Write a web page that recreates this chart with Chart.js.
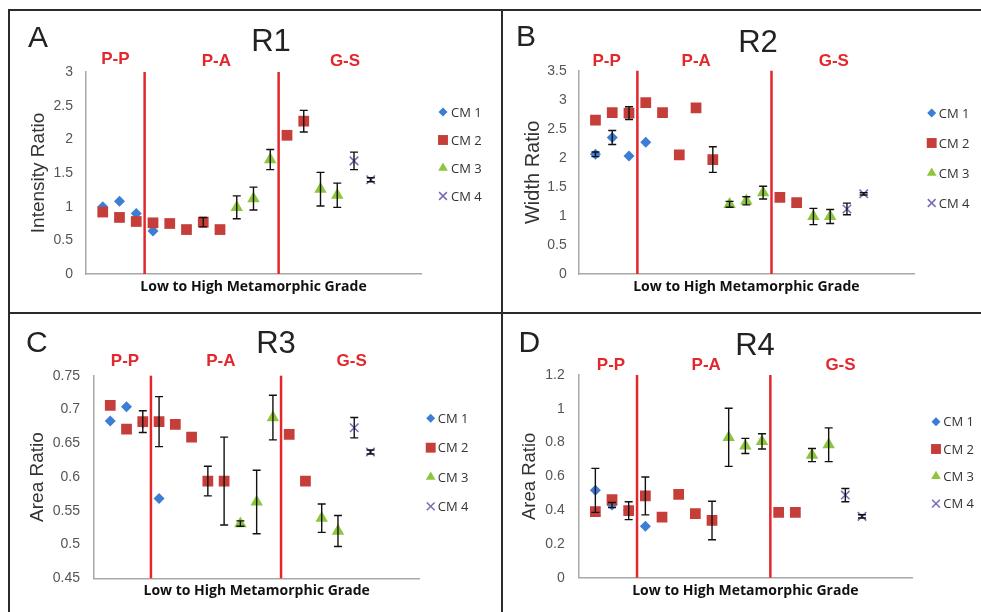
<!DOCTYPE html>
<html>
<head>
<meta charset="utf-8">
<script src="https://cdn.jsdelivr.net/npm/chart.js"></script>
<style>
  body { margin: 0; background: #fff; }
  #fig { position: relative; width: 981px; height: 612px; overflow: hidden; background: #fff; }
  #fig canvas { position: absolute; }
  .rule { position: absolute; background: #2b2b2b; }
</style>
</head>
<body>
<div id="fig">
  <canvas id="r1" width="501" height="313" style="left:0;top:0"></canvas>
  <canvas id="r2" width="480" height="313" style="left:501px;top:0"></canvas>
  <canvas id="r3" width="501" height="299" style="left:0;top:313px"></canvas>
  <canvas id="r4" width="480" height="299" style="left:501px;top:313px"></canvas>
  <div class="rule" style="left:8px;top:9px;width:973px;height:2px"></div>
  <div class="rule" style="left:8px;top:9px;width:2px;height:603px"></div>
  <div class="rule" style="left:501px;top:9px;width:2px;height:603px"></div>
  <div class="rule" style="left:8px;top:312px;width:973px;height:2px"></div>
</div>
<script>
// positions along the "low to high grade" axis
const xCm1 = [1, 2, 3, 4];
const xCm2 = [1, 2, 3, 4, 5, 6, 7, 8, 12, 13];
const xCm3 = [9, 10, 11, 14, 15];
const xCm4 = [16, 17];
const zoneNames = ['P-P', 'P-A', 'G-S'];
const zoneSplits = [3.5, 11.5];
const seriesNames = ['CM 1', 'CM 2', 'CM 3', 'CM 4'];

// R1 - intensity ratio
const r1Cm1 = [1.00, 1.08, 0.90, 0.64];
const r1Cm1Err = [0, 0, 0, 0];
const r1Cm2 = [0.92, 0.84, 0.78, 0.76, 0.75, 0.66, 0.77, 0.66, 2.06, 2.27];
const r1Cm2Err = [0, 0, 0, 0, 0, 0, 0.07, 0, 0, 0.16];
const r1Cm3 = [0.99, 1.12, 1.70, 1.26, 1.17];
const r1Cm3Err = [0.17, 0.17, 0.15, 0.25, 0.18];
const r1Cm4 = [1.68, 1.40];
const r1Cm4Err = [0.13, 0.03];

// R2 - width ratio
const r2Cm1 = [2.06, 2.35, 2.03, 2.27];
const r2Cm1Err = [0.04, 0.12, 0, 0];
const r2Cm2 = [2.65, 2.78, 2.77, 2.95, 2.78, 2.05, 2.86, 1.97, 1.32, 1.23];
const r2Cm2Err = [0, 0, 0.11, 0, 0, 0, 0, 0.22, 0, 0];
const r2Cm3 = [1.20, 1.26, 1.40, 0.99, 0.99];
const r2Cm3Err = [0.05, 0.07, 0.11, 0.14, 0.12];
const r2Cm4 = [1.12, 1.38];
const r2Cm4Err = [0.10, 0.02];

// R3 - area ratio
const r3Cm1 = [0.683, 0.704, 0.680, 0.568];
const r3Cm1Err = [0, 0, 0, 0];
const r3Cm2 = [0.706, 0.671, 0.682, 0.682, 0.678, 0.659, 0.594, 0.594, 0.663, 0.594];
const r3Cm2Err = [0, 0, 0.016, 0.037, 0, 0, 0.022, 0.065, 0, 0];
const r3Cm3 = [0.531, 0.563, 0.688, 0.539, 0.520];
const r3Cm3Err = [0.004, 0.047, 0.033, 0.021, 0.023];
const r3Cm4 = [0.673, 0.637];
const r3Cm4Err = [0.015, 0.003];

// R4 - area ratio
const r4Cm1 = [0.517, 0.43, 0.40, 0.304];
const r4Cm1Err = [0.13, 0.015, 0, 0];
const r4Cm2 = [0.391, 0.462, 0.397, 0.484, 0.359, 0.493, 0.379, 0.339, 0.387, 0.387];
const r4Cm2Err = [0, 0, 0.053, 0.112, 0, 0, 0, 0.114, 0, 0];
const r4Cm3 = [0.831, 0.78, 0.807, 0.726, 0.787];
const r4Cm3Err = [0.172, 0.045, 0.045, 0.039, 0.10];
const r4Cm4 = [0.489, 0.363];
const r4Cm4Err = [0.039, 0.01];

const styles = [
  { color: '#3c7ed3', pointStyle: 'rectRot', radius: 5.5, border: 0, legendRadius: 4.5 },
  { color: '#c63e3a', pointStyle: 'rect', radius: 7.6, border: 0, legendRadius: 7 },
  { color: '#8ec53e', pointStyle: 'triangle', radius: 7.2, border: 0, legendRadius: 5.6 },
  { color: '#7c69b6', pointStyle: 'crossRot', radius: 6, border: 1.5, legendRadius: 5.5 }
];

function pts(xs, ys) {
  return xs.map((x, i) => ({ x: x, y: ys[i] }));
}

function drawMarker(ctx, st, r, x, y) {
  ctx.fillStyle = st.color;
  ctx.strokeStyle = st.color;
  ctx.lineWidth = st.border || 1;
  Chart.helpers.drawPoint(ctx, { pointStyle: st.pointStyle, radius: r, rotation: 0, borderWidth: st.border }, x, y);
}

const decor = {
  id: 'decor',
  beforeDatasetsDraw(chart, args, o) {
    const { ctx, chartArea, scales: { x } } = chart;
    ctx.save();
    ctx.strokeStyle = '#e3282c';
    ctx.lineWidth = 2.5;
    zoneSplits.forEach(v => {
      const px = x.getPixelForValue(v);
      ctx.beginPath();
      ctx.moveTo(px, chartArea.top);
      ctx.lineTo(px, chartArea.bottom);
      ctx.stroke();
    });
    ctx.restore();
  },
  afterDatasetsDraw(chart) {
    const { ctx, scales: { x, y } } = chart;
    ctx.save();
    ctx.strokeStyle = '#111';
    ctx.lineWidth = 1.4;
    chart.data.datasets.forEach(ds => {
      ds.err.forEach((e, j) => {
        if (!e) return;
        const p = ds.data[j];
        const px = x.getPixelForValue(p.x);
        const hi = y.getPixelForValue(p.y + e);
        const lo = y.getPixelForValue(p.y - e);
        ctx.beginPath();
        ctx.moveTo(px, hi); ctx.lineTo(px, lo);
        ctx.moveTo(px - 4, hi); ctx.lineTo(px + 4, hi);
        ctx.moveTo(px - 4, lo); ctx.lineTo(px + 4, lo);
        ctx.stroke();
      });
    });
    ctx.restore();
  },
  afterDraw(chart, args, o) {
    const ctx = chart.ctx;
    ctx.save();
    ctx.fillStyle = '#222';
    ctx.textBaseline = 'alphabetic';
    ctx.textAlign = 'left';
    ctx.font = '30px "Liberation Sans", Arial, sans-serif';
    ctx.fillText(o.letter[0], o.letter[1], o.letter[2]);
    ctx.textAlign = 'center';
    ctx.font = '31px "Liberation Sans", Arial, sans-serif';
    ctx.fillText(o.title[0], o.title[1], o.title[2]);

    ctx.fillStyle = '#e3282c';
    ctx.font = 'bold 17px "Liberation Sans", Arial, sans-serif';
    ctx.textBaseline = 'middle';
    zoneNames.forEach((t, i) => ctx.fillText(t, o.zoneX[i], o.zoneY[i]));

    ctx.textAlign = 'left';
    ctx.font = '13px "Open Sans", sans-serif';
    seriesNames.forEach((t, i) => {
      drawMarker(ctx, styles[i], styles[i].legendRadius, o.legend.mx, o.legend.ys[i]);
      ctx.fillStyle = '#333';
      ctx.fillText(t, o.legend.tx, o.legend.ys[i] + 1);
    });
    ctx.restore();
  }
};

function makePanel(id, series, errs, yAxis, lay, text) {
  const canvas = document.getElementById(id);
  const W = canvas.width, H = canvas.height;
  const xs = [xCm1, xCm2, xCm3, xCm4];
  const datasets = series.map((ys, i) => ({
    label: seriesNames[i],
    data: pts(xs[i], ys),
    err: errs[i],
    order: i === 0 ? 1 : 0,
    pointStyle: styles[i].pointStyle,
    pointRadius: styles[i].radius,
    pointHoverRadius: styles[i].radius,
    backgroundColor: styles[i].color,
    borderColor: styles[i].color,
    pointBorderWidth: styles[i].border,
    showLine: false
  }));
  const yLh = yAxis.titleSize * 1.2;
  const padLeft = lay.yTitleX - yLh / 2;
  const xH = lay.xTitleY + 8.4 - lay.bottom;
  new Chart(canvas, {
    type: 'scatter',
    data: { datasets: datasets },
    plugins: [decor],
    options: {
      responsive: false,
      animation: false,
      events: [],
      layout: {
        padding: {
          left: padLeft,
          right: W - lay.right,
          top: lay.top,
          bottom: H - lay.bottom - xH
        }
      },
      plugins: {
        legend: { display: false },
        tooltip: { enabled: false },
        decor: text
      },
      scales: {
        x: {
          type: 'linear',
          min: 0,
          max: 20,
          grid: { display: false, drawTicks: false, tickLength: 0 },
          border: { display: true, color: '#a8a8a8', width: 1.5 },
          ticks: { display: false },
          title: {
            display: true,
            text: 'Low to High Metamorphic Grade',
            color: '#111',
            font: { family: '"Open Sans", sans-serif', size: 14, weight: 'bold' },
            padding: 0
          },
          afterFit: s => { s.height = xH; }
        },
        y: {
          min: yAxis.min,
          max: yAxis.max,
          grid: { display: false, drawTicks: false, tickLength: 0 },
          border: { display: true, color: '#a8a8a8', width: 1.5 },
          ticks: {
            stepSize: yAxis.step,
            padding: lay.tickPad,
            color: '#555',
            font: { family: '"Liberation Sans", Arial, sans-serif', size: 14 },
            callback: v => String(Math.round(v * 1000) / 1000)
          },
          title: {
            display: true,
            text: yAxis.title,
            color: '#333',
            font: { family: '"Liberation Sans", Arial, sans-serif', size: yAxis.titleSize },
            padding: 0
          },
          afterFit: s => { s.width = lay.left - padLeft; }
        }
      }
    }
  });
}

makePanel('r1',
  [r1Cm1, r1Cm2, r1Cm3, r1Cm4], [r1Cm1Err, r1Cm2Err, r1Cm3Err, r1Cm4Err],
  { min: 0, max: 3, step: 0.5, title: 'Intensity Ratio', titleSize: 19 },
  { left: 86, right: 421, top: 72, bottom: 274, yTitleX: 38.5, xTitleY: 287, tickPad: 13 },
  { letter: ['A', 28, 47], title: ['R1', 271, 51],
    zoneX: [115.3, 216.3, 345], zoneY: [59.7, 61.2, 61.7],
    legend: { mx: 443, tx: 451, ys: [112, 140, 168, 196] } });

makePanel('r2',
  [r2Cm1, r2Cm2, r2Cm3, r2Cm4], [r2Cm1Err, r2Cm2Err, r2Cm3Err, r2Cm4Err],
  { min: 0, max: 3.5, step: 0.5, title: 'Width Ratio', titleSize: 20 },
  { left: 77.7, right: 413, top: 70.7, bottom: 274, yTitleX: 32, xTitleY: 287, tickPad: 12 },
  { letter: ['B', 15, 46], title: ['R2', 257, 52],
    zoneX: [105.7, 195.2, 332.8], zoneY: [61, 61, 61],
    legend: { mx: 430.7, tx: 437.7, ys: [113, 143, 173, 203] } });

makePanel('r3',
  [r3Cm1, r3Cm2, r3Cm3, r3Cm4], [r3Cm1Err, r3Cm2Err, r3Cm3Err, r3Cm4Err],
  { min: 0.45, max: 0.75, step: 0.05, title: 'Area Ratio', titleSize: 19 },
  { left: 94, right: 419.3, top: 62.7, bottom: 265.3, yTitleX: 38, xTitleY: 278.5, tickPad: 14 },
  { letter: ['C', 26, 38.5], title: ['R3', 276, 40],
    zoneX: [125, 220.8, 351.7], zoneY: [48.7, 48.7, 48.7],
    legend: { mx: 430.7, tx: 437.7, ys: [105.3, 134.7, 164, 193.3] } });

makePanel('r4',
  [r4Cm1, r4Cm2, r4Cm3, r4Cm4], [r4Cm1Err, r4Cm2Err, r4Cm3Err, r4Cm4Err],
  { min: 0, max: 1.2, step: 0.2, title: 'Area Ratio', titleSize: 18.5 },
  { left: 77.7, right: 411, top: 62, bottom: 264.7, yTitleX: 29, xTitleY: 278.5, tickPad: 14 },
  { letter: ['D', 17.5, 38.7], title: ['R4', 254, 41.5],
    zoneX: [110, 205.2, 339.5], zoneY: [52, 52, 52],
    legend: { mx: 435, tx: 442.3, ys: [108.7, 136, 163.3, 190.7] } });
</script>
</body>
</html>
